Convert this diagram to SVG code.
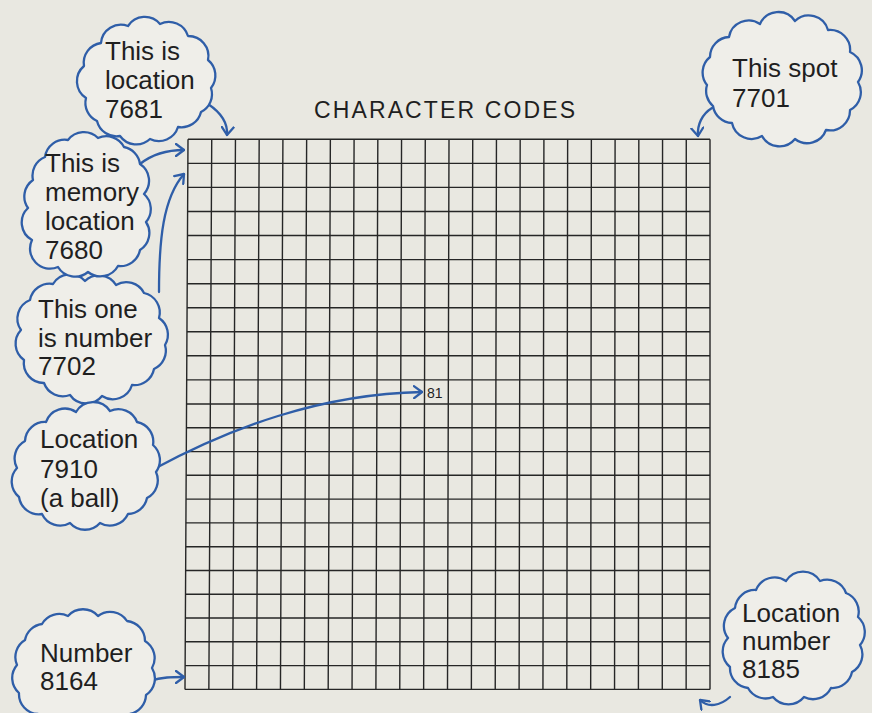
<svg xmlns="http://www.w3.org/2000/svg" width="872" height="713" viewBox="0 0 872 713">
<defs>
<style>
.bg{fill:#e9e8e1}
.grid{stroke:#262626;stroke-width:1.4;fill:none}
.cloud{fill:#efeee9;stroke:#2f5ea8;stroke-width:2.3;stroke-linejoin:round}
.arr{fill:none;stroke:#2f5ea8;stroke-width:2.3;stroke-linecap:round;marker-end:url(#ah)}
.t{font-family:"Liberation Sans",Arial,Helvetica,sans-serif;font-size:26px;fill:#1f1f1f}
.title{font-family:"Liberation Sans",Arial,Helvetica,sans-serif;font-size:23px;fill:#1f1f1f}
.small{font-family:"Liberation Sans",Arial,Helvetica,sans-serif;font-size:14px;fill:#1f1f1f}
</style>
<marker id="ah" viewBox="0 0 10 14" refX="9" refY="7" markerWidth="10" markerHeight="14" markerUnits="userSpaceOnUse" orient="auto">
<path d="M1,1 L9,7 L1,13" fill="none" stroke="#2f5ea8" stroke-width="2.3" stroke-linecap="round" stroke-linejoin="round"/>
</marker>
</defs>
<rect class="bg" x="0" y="0" width="872" height="713"/>

<g id="grid">
<path class="grid" d="M188,139.3L185,689.4 M211.73,139.3L208.86,689.4 M235.45,139.3L232.73,689.4 M259.18,139.3L256.59,689.4 M282.91,139.3L280.45,689.4 M306.64,139.3L304.32,689.4 M330.36,139.3L328.18,689.4 M354.09,139.3L352.05,689.4 M377.82,139.3L375.91,689.4 M401.55,139.3L399.77,689.4 M425.27,139.3L423.64,689.4 M449,139.3L447.5,689.4 M472.73,139.3L471.36,689.4 M496.45,139.3L495.23,689.4 M520.18,139.3L519.09,689.4 M543.91,139.3L542.95,689.4 M567.64,139.3L566.82,689.4 M591.36,139.3L590.68,689.4 M615.09,139.3L614.55,689.4 M638.82,139.3L638.41,689.4 M662.55,139.3L662.27,689.4 M686.27,139.3L686.14,689.4 M710,139.3L710,689.4"/>
<path class="grid" d="M188,139.3H710 M187.87,163.4H710 M187.74,187.4H710 M187.61,211.5H710 M187.48,235.5H710 M187.34,259.6H710 M187.21,283.7H710 M187.08,307.7H710 M186.95,331.8H710 M186.82,355.8H710 M186.69,379.9H710 M186.56,404H710 M186.43,427.8H710 M186.3,451.6H710 M186.17,475.3H710 M186.04,499.1H710 M185.91,522.9H710 M185.79,546.7H710 M185.66,570.5H710 M185.53,594.2H710 M185.4,618H710 M185.27,641.8H710 M185.14,665.6H710 M185,689.4H710"/>
</g>

<g id="title">
<text class="title" x="314" y="118" textLength="261" lengthAdjust="spacing">CHARACTER CODES</text>
</g>

<g id="cell-7910">
<text class="small" x="427" y="398">81</text>
</g>

<g id="connectors">
<path class="arr" d="M208,104 C220,112 228,122 227,135"/>
<path class="arr" d="M140,164 C150,156 165,150 184,150"/>
<path class="arr" d="M159,292 C159,240 163,198 184,174"/>
<path class="arr" d="M152,470 C230,428 320,394 422,392"/>
<path class="arr" d="M150,681 C162,677 172,677 184,677"/>
<path class="arr" d="M712,108 C702,114 697,125 698,136"/>
<path class="arr" d="M730,697 C720,706 708,708 700,700"/>
</g>

<g id="cloud-7702">
<path class="cloud" d="M24,360 A20,20 0 0 1 21,330 A20,20 0 0 1 30,300 A20,20 0 0 1 53,284 A20,20 0 0 1 85,281 A20,20 0 0 1 116,285 A20,20 0 0 1 144,293 A20,20 0 0 1 159,318 A20,20 0 0 1 165,345 A20,20 0 0 1 154,369 A20,20 0 0 1 132,385 A20,20 0 0 1 102,396 A20,20 0 0 1 70,395 A20,20 0 0 1 44,383 A20,20 0 0 1 24,360 Z"/>
<text class="t" x="38" y="318">This one</text>
<text class="t" x="38" y="347">is number</text>
<text class="t" x="38" y="375">7702</text>
</g>

<g id="cloud-7680">
<path class="cloud" d="M32,240 A20,20 0 0 1 28,208 A20,20 0 0 1 33,180 A20,20 0 0 1 45,157 A20,20 0 0 1 68,140 A20,20 0 0 1 98,138 A20,20 0 0 1 124,147 A20,20 0 0 1 140,164 A20,20 0 0 1 144,194 A20,20 0 0 1 146,222 A20,20 0 0 1 140,250 A20,20 0 0 1 118,266 A20,20 0 0 1 88,272 A20,20 0 0 1 58,267 A20,20 0 0 1 32,240 Z"/>
<text class="t" x="45" y="172">This is</text>
<text class="t" x="45" y="201">memory</text>
<text class="t" x="45" y="230">location</text>
<text class="t" x="45" y="259">7680</text>
</g>

<g id="cloud-7681">
<path class="cloud" d="M86,98 A20,20 0 0 1 84,66 A20,20 0 0 1 101,43 A20,20 0 0 1 128,26 A20,20 0 0 1 160,24 A20,20 0 0 1 188,36 A20,20 0 0 1 208,60 A20,20 0 0 1 211,88 A20,20 0 0 1 201,112 A20,20 0 0 1 178,127 A20,20 0 0 1 150,139 A20,20 0 0 1 120,136 A20,20 0 0 1 97,121 A20,20 0 0 1 86,98 Z"/>
<text class="t" x="105" y="60">This is</text>
<text class="t" x="105" y="89">location</text>
<text class="t" x="105" y="118">7681</text>
</g>

<g id="cloud-7910">
<path class="cloud" d="M19,497 A20,20 0 0 1 17,468 A20,20 0 0 1 25,441 A20,20 0 0 1 46,422 A20,20 0 0 1 76,412 A20,20 0 0 1 110,411 A20,20 0 0 1 137,422 A20,20 0 0 1 153,445 A20,20 0 0 1 156,472 A20,20 0 0 1 147,498 A20,20 0 0 1 128,514 A20,20 0 0 1 100,523 A20,20 0 0 1 70,523 A20,20 0 0 1 42,514 A20,20 0 0 1 19,497 Z"/>
<text class="t" x="40" y="448">Location</text>
<text class="t" x="40" y="478">7910</text>
<text class="t" x="40" y="507">(a ball)</text>
</g>

<g id="cloud-8164">
<path class="cloud" d="M19,693 A20,20 0 0 1 17,665 A20,20 0 0 1 25,640 A20,20 0 0 1 42,624 A20,20 0 0 1 68,616 A20,20 0 0 1 98,616 A20,20 0 0 1 127,621 A20,20 0 0 1 145,641 A20,20 0 0 1 152,668 A20,20 0 0 1 146,695 A20,20 0 0 1 130,714 A20,20 0 0 1 100,722 A20,20 0 0 1 66,722 A20,20 0 0 1 38,714 A20,20 0 0 1 19,693 Z"/>
<text class="t" x="40" y="662">Number</text>
<text class="t" x="40" y="690">8164</text>
</g>

<g id="cloud-7701">
<path class="cloud" d="M707,85 A20,20 0 0 1 710,57 A20,20 0 0 1 729,37 A20,20 0 0 1 760,24 A20,20 0 0 1 795,21 A20,20 0 0 1 828,30 A20,20 0 0 1 850,52 A20,20 0 0 1 858,82 A20,20 0 0 1 850,110 A20,20 0 0 1 826,130 A20,20 0 0 1 795,139 A20,20 0 0 1 762,136 A20,20 0 0 1 732,123 A20,20 0 0 1 713,106 A20,20 0 0 1 707,85 Z"/>
<text class="t" x="732" y="77">This spot</text>
<text class="t" x="732" y="107">7701</text>
</g>

<g id="cloud-8185">
<path class="cloud" d="M730,667 A20,20 0 0 1 728,638 A20,20 0 0 1 735,608 A20,20 0 0 1 756,590 A20,20 0 0 1 786,581 A20,20 0 0 1 820,581 A20,20 0 0 1 846,593 A20,20 0 0 1 858,617 A20,20 0 0 1 860,645 A20,20 0 0 1 852,672 A20,20 0 0 1 831,688 A20,20 0 0 1 804,697 A20,20 0 0 1 773,697 A20,20 0 0 1 748,688 A20,20 0 0 1 730,667 Z"/>
<text class="t" x="742" y="622">Location</text>
<text class="t" x="742" y="650">number</text>
<text class="t" x="742" y="678">8185</text>
</g>
</svg>
